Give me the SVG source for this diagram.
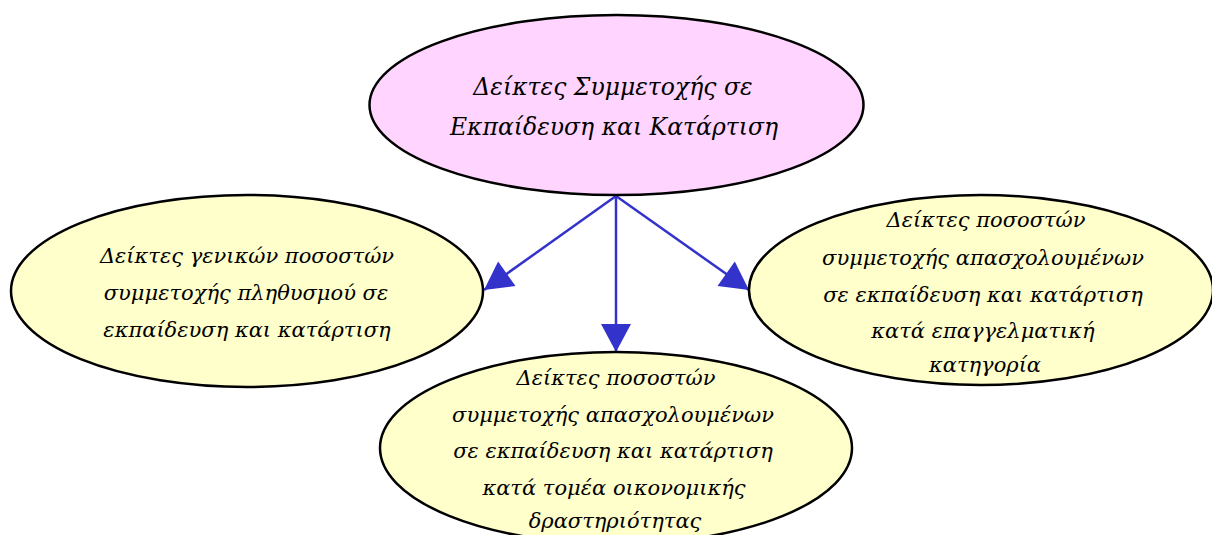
<svg xmlns="http://www.w3.org/2000/svg" width="1212" height="535" viewBox="0 0 1212 535">
<style>
.n{stroke:#000;stroke-width:2.5}
.top{fill:#FFD5FF}
.sub{fill:#FFFFCC}
text{font-family:"DejaVu Serif",serif;font-style:italic;fill:#000;text-anchor:middle}
.t1{font-size:23.5px}
.t2{font-size:21px}
.c{stroke:#3333CC;stroke-width:2.5;fill:none}
</style>
<defs>
<marker id="ah" markerUnits="userSpaceOnUse" markerWidth="30" markerHeight="30" viewBox="0 0 28 30" refX="28" refY="15" orient="auto">
<path d="M0,0 L28,15 L0,30 Z" fill="#3333CC"/>
</marker>
</defs>
<rect width="1212" height="535" fill="#fff"/>
<g id="connectors">
<line class="c" x1="616" y1="196" x2="484" y2="290" marker-end="url(#ah)"/>
<line class="c" x1="616" y1="196" x2="616" y2="352" marker-end="url(#ah)"/>
<line class="c" x1="616" y1="196" x2="749" y2="290" marker-end="url(#ah)"/>
</g>
<g id="node-top">
<ellipse class="n top" cx="616.5" cy="105" rx="247" ry="90"/>
<text class="t1" x="613" y="95">Δείκτες Συμμετοχής σε</text>
<text class="t1" x="614" y="135">Εκπαίδευση και Κατάρτιση</text>
</g>
<g id="node-left">
<ellipse class="n sub" cx="247" cy="291" rx="236" ry="96"/>
<text class="t2" x="247" y="263">Δείκτες γενικών ποσοστών</text>
<text class="t2" x="246" y="300">συμμετοχής πληθυσμού σε</text>
<text class="t2" x="247" y="337">εκπαίδευση και κατάρτιση</text>
</g>
<g id="node-right">
<ellipse class="n sub" cx="981" cy="290" rx="232" ry="95"/>
<text class="t2" x="986" y="227">Δείκτες ποσοστών</text>
<text class="t2" x="983" y="265">συμμετοχής απασχολουμένων</text>
<text class="t2" x="983" y="302">σε εκπαίδευση και κατάρτιση</text>
<text class="t2" x="983" y="338">κατά επαγγελματική</text>
<text class="t2" x="985" y="372">κατηγορία</text>
</g>
<g id="node-bottom">
<ellipse class="n sub" cx="616" cy="448" rx="236" ry="96"/>
<text class="t2" x="616" y="385">Δείκτες ποσοστών</text>
<text class="t2" x="613" y="422">συμμετοχής απασχολουμένων</text>
<text class="t2" x="613" y="458">σε εκπαίδευση και κατάρτιση</text>
<text class="t2" x="614" y="495">κατά τομέα οικονομικής</text>
<text class="t2" x="615" y="528">δραστηριότητας</text>
</g>
</svg>
